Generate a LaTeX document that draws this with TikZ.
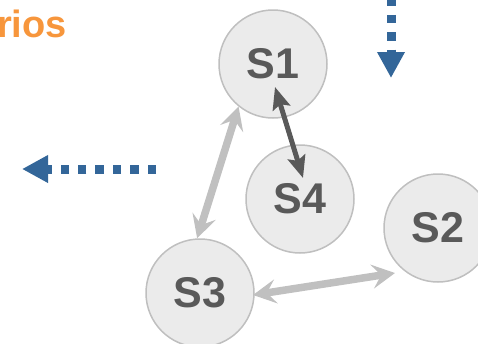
\documentclass[tikz,border=0pt]{standalone}
\usepackage{fontspec}
\setmainfont{Liberation Sans}
\usepackage{tikz}
\usetikzlibrary{arrows.meta,calc}
\definecolor{nodefill}{HTML}{EBEBEB}
\definecolor{nodeline}{HTML}{BFBFBF}
\definecolor{labelgray}{HTML}{595959}
\definecolor{linkgray}{HTML}{C0C0C0}
\definecolor{flowblue}{HTML}{336699}
\definecolor{titleorange}{HTML}{F7963C}

\begin{document}
\begin{tikzpicture}[x=1pt,y=-1pt]
\tikzstyle{state}=[circle,draw=nodeline,fill=nodefill,line width=1.5pt,minimum size=108pt,inner sep=0pt,text=labelgray,font=\fontsize{43}{43}\selectfont\bfseries]
\tikzstyle{darklink}=[draw=labelgray,line width=5pt,{Stealth[length=22pt,width=18pt,inset=4pt]}-{Stealth[length=22pt,width=18pt,inset=4pt]}]
\tikzstyle{lightlink}=[draw=linkgray,line width=7.5pt,{Stealth[length=23pt,width=24pt,inset=9pt]}-{Stealth[length=23pt,width=24pt,inset=9pt]}]
\tikzstyle{flow}=[draw=flowblue,line width=9pt,dash pattern=on 8.5pt off 8.9pt,-{Triangle[length=26pt,width=26pt]}]
\useasboundingbox (0,0) rectangle (478,343);
\clip (0,0) rectangle (478,343);
\node[anchor=base east,inner sep=0pt,text=titleorange,font=\fontsize{38}{38}\selectfont\bfseries] (title) at (67,37) {rios};
\node[state] (S1) at (273,64) {S1};
\node[state] (S4) at (300,199) {S4};
\node[state] (S2) at (438,228) {S2};
\node[state] (S3) at (200,293) {S3};
\draw[darklink] ($(S1)+(2,23)$) -- ($(S4)+(3,-21)$);
\draw[lightlink] (S1.231) -- (S3.93);
\draw[lightlink] ($(S3)+(53,2)$) -- ($(S2)+(-43,45)$);
\coordinate (leftstart) at (156,169);
\coordinate (lefttip) at (22,169);
\coordinate (downstart) at (391,-2.5);
\coordinate (downtip) at (391,78);
\draw[flow] (leftstart) -- (lefttip);
\draw[flow] (downstart) -- (downtip);
\end{tikzpicture}
\end{document}
